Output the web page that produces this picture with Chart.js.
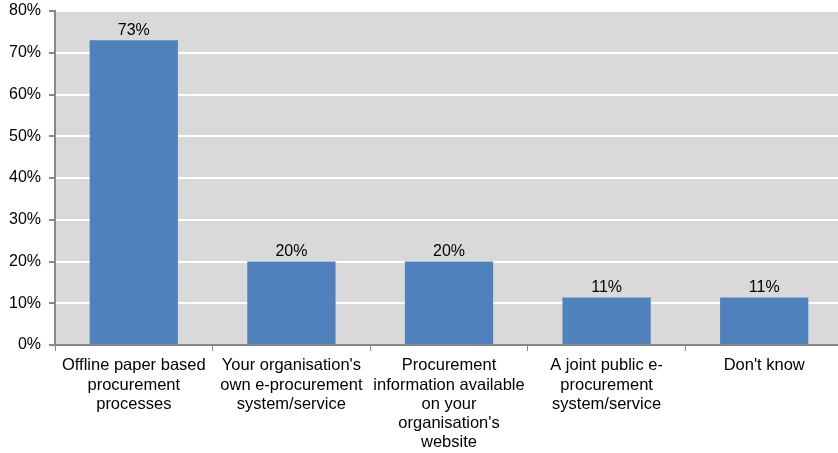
<!DOCTYPE html>
<html>
<head>
<meta charset="utf-8">
<script src="https://cdn.jsdelivr.net/npm/chart.js@4/dist/chart.umd.min.js"></script>
<style>
html,body{margin:0;padding:0;background:#fff;overflow:hidden;}
#wrap{width:843px;height:453px;position:relative;}
</style>
</head>
<body>
<div id="wrap"><canvas id="c" width="843" height="453"></canvas></div>
<script>
const categories = [
  ["Offline paper based", "procurement", "processes"],
  ["Your organisation's", "own e-procurement", "system/service"],
  ["Procurement", "information available", "on your", "organisation's", "website"],
  ["A joint public e-", "procurement", "system/service"],
  ["Don't know"]
];
const values = [73, 20, 20, 11.4, 11.4];
const valueLabels = ["73%", "20%", "20%", "11%", "11%"];
const yTicks = [0, 10, 20, 30, 40, 50, 60, 70, 80];

const FONT = "'Liberation Sans', Arial, sans-serif";

const bgPlugin = {
  id: 'bg',
  beforeDraw(chart) {
    const {ctx, chartArea: a} = chart;
    ctx.save();
    ctx.fillStyle = '#D9D9D9';
    ctx.fillRect(a.left, a.top, a.right - a.left, a.bottom - a.top);
    ctx.restore();
  }
};
const labelPlugin = {
  id: 'vlabels',
  afterDatasetsDraw(chart) {
    const {ctx} = chart;
    const meta = chart.getDatasetMeta(0);
    ctx.save();
    ctx.font = "16px " + FONT;
    ctx.fillStyle = '#000';
    ctx.textAlign = 'center';
    ctx.textBaseline = 'bottom';
    meta.data.forEach((bar, i) => {
      ctx.fillText(valueLabels[i], bar.x, bar.y - 2);
    });
    ctx.restore();
  }
};

new Chart(document.getElementById('c'), {
  type: 'bar',
  data: {
    labels: categories,
    datasets: [{
      data: values,
      backgroundColor: '#4F81BD',
      borderWidth: 0,
      barPercentage: 0.56,
      categoryPercentage: 1.0
    }]
  },
  options: {
    responsive: false,
    animation: false,
    layout: { padding: { top: 11, right: 0, bottom: 0, left: 0 } },
    plugins: { legend: { display: false }, tooltip: { enabled: false } },
    scales: {
      x: {
        offset: true,
        grid: { display: true, drawOnChartArea: false, tickColor: '#888', tickLength: 6, offset: true },
        border: { color: '#888', width: 2 },
        ticks: { color: '#000', font: { family: FONT, size: 16.5, lineHeight: 1.17 }, maxRotation: 0, autoSkip: false, padding: 5 },
        afterFit(s) { s.height = 108; s.paddingLeft = 0; s.paddingRight = 0; }
      },
      y: {
        min: 0, max: 80,
        afterBuildTicks(s) { s.ticks = yTicks.map(v => ({value: v})); },
        grid: { color: '#FFFFFF', lineWidth: 2, tickColor: '#888', tickLength: 6, drawTicks: true },
        border: { color: '#888', width: 2 },
        ticks: { color: '#000', font: { family: FONT, size: 16 }, padding: 8, callback: v => v + '%' },
        afterFit(s) { s.width = 55; s.paddingTop = 0; s.paddingBottom = 0; }
      }
    }
  },
  plugins: [bgPlugin, labelPlugin]
});
</script>
</body>
</html>
